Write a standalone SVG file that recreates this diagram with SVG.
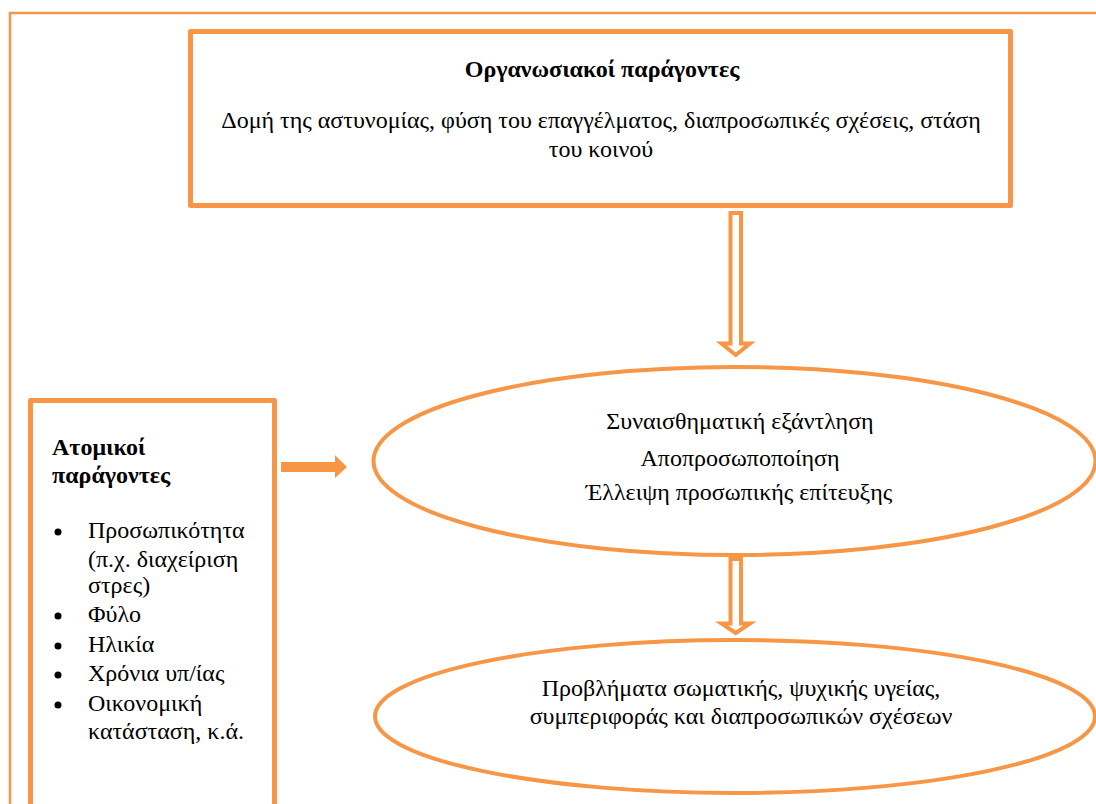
<svg xmlns="http://www.w3.org/2000/svg" width="1096" height="804" viewBox="0 0 1096 804">
<style>
.frame{fill:none;stroke:#F79646;stroke-width:2.5}
.box{fill:#fff;stroke:#F79646;stroke-width:5;stroke-linejoin:round}
.ell{fill:#fff;stroke:#F79646;stroke-width:4}
.hollow{fill:#fff;stroke:#F79646;stroke-width:4;stroke-linejoin:miter}
.solid{fill:#F79646;stroke:none}
text{font-family:"Liberation Serif","Times New Roman",serif;font-size:24px;fill:#000}
.b{font-weight:bold}
.c{text-anchor:middle}
</style>
<rect width="1096" height="804" fill="#fff"/>
<rect class="frame" x="10" y="13" width="1100" height="800"/>
<g id="org">
<rect class="box" x="190.5" y="31.5" width="820" height="174"/>
<text class="b c" x="602" y="77">Οργανωσιακοί παράγοντες</text>
<text class="c" x="601" y="128">Δομή της αστυνομίας, φύση του επαγγέλματος, διαπροσωπικές σχέσεις, στάση</text>
<text class="c" x="601" y="157">του κοινού</text>
</g>
<g id="atomikoi">
<rect class="box" x="30.5" y="400.5" width="244" height="420"/>
<text class="b" x="52" y="455">Ατομικοί</text>
<text class="b" x="52" y="483">παράγοντες</text>
<g>
<circle cx="58" cy="532" r="3.5"/>
<circle cx="58" cy="616" r="3.5"/>
<circle cx="58" cy="646" r="3.5"/>
<circle cx="58" cy="675" r="3.5"/>
<circle cx="58" cy="705" r="3.5"/>
</g>
<text x="88" y="538">Προσωπικότητα</text>
<text x="88" y="567">(π.χ. διαχείριση</text>
<text x="88" y="593">στρες)</text>
<text x="88" y="622">Φύλο</text>
<text x="88" y="652">Ηλικία</text>
<text x="88" y="681">Χρόνια υπ/ίας</text>
<text x="88" y="711">Οικονομική</text>
<text x="88" y="739">κατάσταση, κ.ά.</text>
</g>
<g id="burnout">
<ellipse class="ell" cx="734.5" cy="461" rx="361" ry="94"/>
<text class="c" x="740" y="429">Συναισθηματική εξάντληση</text>
<text class="c" x="740" y="466">Αποπροσωποποίηση</text>
<text class="c" x="739" y="500">Έλλειψη προσωπικής επίτευξης</text>
</g>
<g id="problems">
<ellipse class="ell" cx="735" cy="716.5" rx="360" ry="76.5"/>
<text class="c" x="741" y="696">Προβλήματα σωματικής, ψυχικής υγείας,</text>
<text class="c" x="741" y="724">συμπεριφοράς και διαπροσωπικών σχέσεων</text>
</g>
<g id="connectors">
<path class="hollow" d="M730.5,213 H741 V343.5 H750 L735.75,355 L721.5,343.5 H730.5 Z"/>
<path class="hollow" d="M730.5,559 H741 V623.5 H750 L735.75,633 L721.5,623.5 H730.5 Z"/>
<path class="solid" d="M281,462 H335 V455 L347,467 L335,478 V472 H281 Z"/>
</g>
</svg>
